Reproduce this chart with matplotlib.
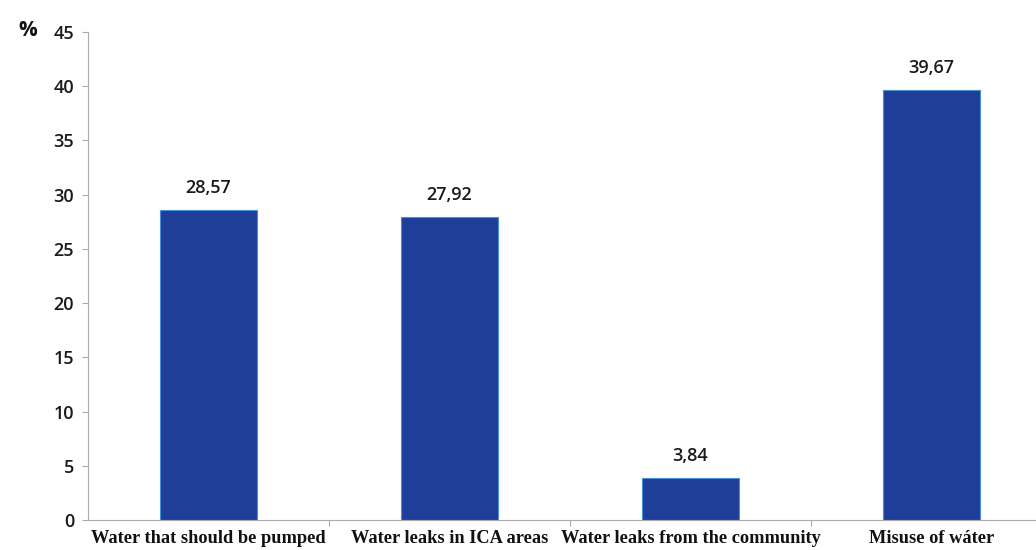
import matplotlib
matplotlib.use("Agg")
import matplotlib.pyplot as plt
import numpy as np

categories = ["Water that should be pumped", "Water leaks in ICA areas",
              "Water leaks from the community", "Misuse of wáter"]
values = [28.57, 27.92, 3.84, 39.67]
value_labels = ["28,57", "27,92", "3,84", "39,67"]
yticks = [0, 5, 10, 15, 20, 25, 30, 35, 40, 45]

W, H = 1036, 550
fig = plt.figure(figsize=(W / 100, H / 100), dpi=100)
# axes runs a bit past the right edge, like the source image (cropped)
left, right, bottom, top = 88, 1052, 520, 32
ax = fig.add_axes([left / W, 1 - bottom / H, (right - left) / W, (bottom - top) / H])

x = np.arange(len(categories))
ax.bar(x, values, width=0.4, color="#1f3e9a", edgecolor="#4a8fd6", linewidth=0.8, zorder=2)

for xi, v, lab in zip(x, values, value_labels):
    ax.text(xi, v + 1.2, lab, ha="center", va="bottom", fontsize=13,
            family="Open Sans", fontweight="semibold", color="#1a1a1a")

ax.set_xlim(-0.5, 3.5)
ax.set_ylim(0, 45)
ax.set_yticks(yticks)
ax.set_yticklabels([str(t) for t in yticks], family="Open Sans", fontweight="semibold",
                   fontsize=13, color="#1a1a1a")

ax.set_xticks(np.arange(0.5, 3.5, 1), minor=False)
ax.set_xticklabels([])
ax.set_xticks(x, minor=True)
ax.set_xticklabels(categories, minor=True, family="Liberation Serif", fontweight="bold",
                   fontsize=13.2, color="#111111")
ax.tick_params(axis="x", which="minor", length=0, pad=7)
ax.tick_params(axis="x", which="major", length=4, color="#aaaaaa", direction="out")
ax.tick_params(axis="y", length=4, color="#aaaaaa", pad=6)

for s in ["top", "right"]:
    ax.spines[s].set_visible(False)
ax.spines["left"].set_color("#aaaaaa")
ax.spines["bottom"].set_color("#aaaaaa")

fig.text(18 / W, 1 - 30 / H, "%", fontsize=15, fontweight="bold", family="Open Sans",
         ha="left", va="center", color="#111111")

fig.savefig("out.png", dpi=100)
